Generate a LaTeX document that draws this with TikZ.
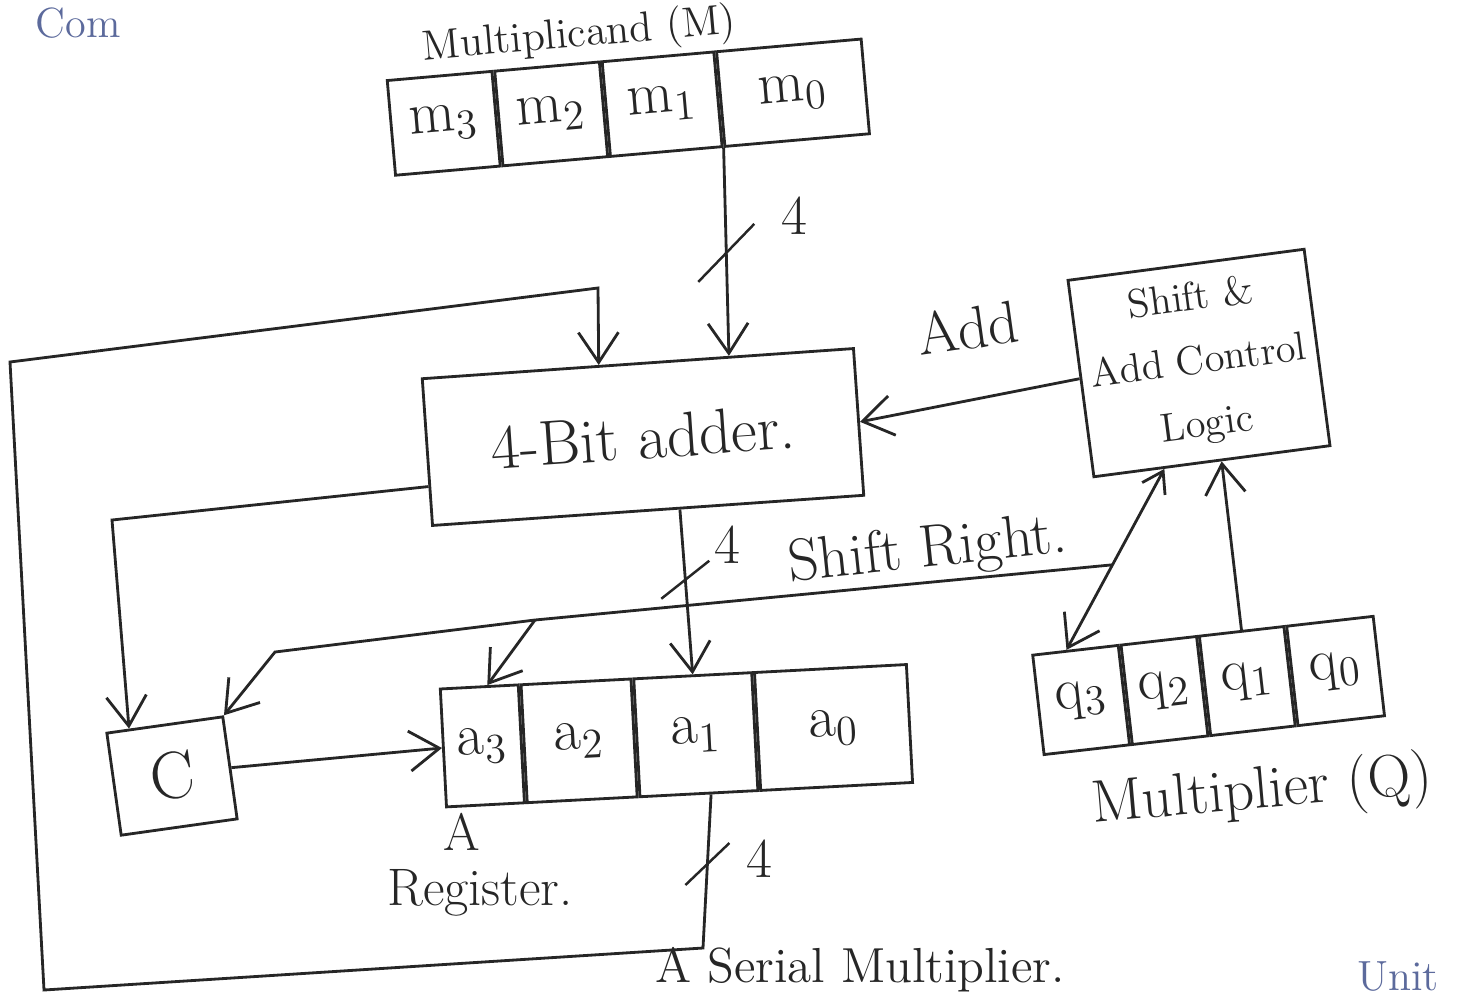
\documentclass[tikz,border=0pt]{standalone}
\usetikzlibrary{arrows.meta,calc}
\definecolor{ink}{HTML}{262626}
\definecolor{pale}{HTML}{5C6A9C}
\begin{document}
\begin{tikzpicture}[x=0.01cm, y=-0.01cm, line width=0.8pt, color=ink,
  every node/.style={font=\fontsize{16}{19}\selectfont},
  cell/.style={draw, inner sep=0pt, anchor=west, transform shape, font=\fontsize{17}{20}\selectfont},
  blk/.style={draw, inner sep=0pt, transform shape},
  tip/.style={-{Straight Barb[length=3mm,width=4mm]}},
  dtip/.style={{Straight Barb[length=2mm,width=2.6mm]}-{Straight Barb[length=3mm,width=4mm]}},
  lbl/.style={inner sep=1pt},
  tick/.style={line width=0.7pt}
]
\useasboundingbox (0,0) rectangle (1470,1000);

% ---------- Multiplicand register ----------
\begin{scope}[shift={(390,128)}, rotate=5]
  \node[cell, minimum width=1.05cm, minimum height=0.95cm] (m3) at (0,0) {m$_3$};
  \node[cell, minimum width=1.05cm, minimum height=0.95cm] (m2) at (m3.east) {m$_2$};
  \node[cell, minimum width=1.12cm, minimum height=0.95cm] (m1) at (m2.east) {m$_1$};
  \node[cell, minimum width=1.45cm, minimum height=0.95cm] (m0) at (m1.east) {m$_0$};
\end{scope}
\node[rotate=5, anchor=south west, inner sep=1pt, font=\fontsize{12}{14}\selectfont] (mlbl) at (420,76) {Multiplicand (M)};

% ---------- A register ----------
\begin{scope}[shift={(442,748)}, rotate=3]
  \node[cell, minimum width=0.78cm, minimum height=1.18cm] (a3) at (0,0) {a$_3$};
  \node[cell, minimum width=1.10cm, minimum height=1.18cm] (a2) at (a3.east) {a$_2$};
  \node[cell, minimum width=1.18cm, minimum height=1.18cm] (a1) at (a2.east) {a$_1$};
  \node[cell, minimum width=1.52cm, minimum height=1.18cm] (a0) at (a1.east) {a$_0$};
\end{scope}
\node[lbl, font=\fontsize{15}{18}\selectfont] (alblA) at (462,832) {A};
\node[lbl, font=\fontsize{15}{18}\selectfont] (alblR) at (480,893) {Register.};

% ---------- Q register ----------
\begin{scope}[shift={(1037,705)}, rotate=6.5]
  \node[cell, minimum width=0.86cm, minimum height=1.0cm] (q3) at (0,0) {q$_3$};
  \node[cell, minimum width=0.76cm, minimum height=1.0cm] (q2) at (q3.east) {q$_2$};
  \node[cell, minimum width=0.85cm, minimum height=1.0cm] (q1) at (q2.east) {q$_1$};
  \node[cell, minimum width=0.87cm, minimum height=1.0cm] (q0) at (q1.east) {q$_0$};
\end{scope}
\node[rotate=5, lbl, font=\fontsize{17}{20}\selectfont] (qlbl) at (1262,793) {Multiplier (Q)};

% ---------- Blocks ----------
\node[blk, rotate=4, minimum width=4.32cm, minimum height=1.47cm, font=\fontsize{18}{21}\selectfont] (adder) at (643,437) {4-Bit adder.};
\node[blk, rotate=7.5, minimum width=2.38cm, minimum height=1.98cm, align=center, font=\fontsize{11.5}{18}\selectfont] (ctrl) at (1199,363) {Shift \&\\Add Control\\Logic};
\node[blk, rotate=8, minimum width=1.17cm, minimum height=1.03cm, font=\fontsize{19}{22}\selectfont] (C) at (172,776) {C};

% ---------- Multiplicand -> adder ----------
\coordinate (mOut) at (m1.south east);
\coordinate (addIn) at ($(adder.north west)!0.71!(adder.north east)$);
\draw[tip] (mOut) -- (addIn);
\coordinate (t1) at ($(mOut)!0.5!(addIn)$);
\draw[tick] ([shift={(-28,30)}]t1) -- ([shift={(28,-28)}]t1);
\node[lbl] (n4a) at ([shift={(68,-36)}]t1) {4};

% ---------- feedback loop A -> adder ----------
\coordinate (aOut) at ($(a1.south west)!0.6!(a1.south east)$);
\coordinate (lp1) at (703,948);
\coordinate (lp2) at (44,990);
\coordinate (lp3) at (10,362);
\coordinate (lp4) at (598,288);
\coordinate (addIn2) at ($(adder.north west)!0.41!(adder.north east)$);
\draw[tip] (aOut) -- (lp1) -- (lp2) -- (lp3) -- (lp4) -- (addIn2);
\coordinate (t3) at ($(aOut)!0.46!(lp1)$);
\draw[tick] ([shift={(-22,20)}]t3) -- ([shift={(22,-22)}]t3);
\node[lbl] (n4c) at ([shift={(52,-6)}]t3) {4};

% ---------- adder -> C ----------
\coordinate (addOutL) at ($(adder.south west)!0.27!(adder.north west)$);
\coordinate (cl1) at (112,520);
\coordinate (cIn) at ($(C.north west)!0.2!(C.north east)$);
\draw[tip] (addOutL) -- (cl1) -- (cIn);

% ---------- adder -> A ----------
\coordinate (addOutB) at ($(adder.south west)!0.573!(adder.south east)$);
\draw[tip] (addOutB) -- (a1.north);
\coordinate (t2) at ($(addOutB)!0.42!(a1.north)$);
\draw[tick] ([shift={(-24,20)}]t2) -- ([shift={(24,-18)}]t2);
\node[lbl] (n4b) at ([shift={(42,-34)}]t2) {4};

% ---------- control -> adder ----------
\draw[tip] (ctrl.west) -- (adder.east);
\node[rotate=8, lbl, font=\fontsize{17}{20}\selectfont] (addlbl) at (968,328) {Add};

% ---------- shift right ----------
\coordinate (dTop) at ($(ctrl.south west)!0.30!(ctrl.south east)$);
\coordinate (dBot) at ($(q3.north west)!0.4!(q3.north east)$);
\draw[dtip] (dTop) -- (dBot);
\coordinate (sr) at ($(dTop)!0.53!(dBot)$);
\coordinate (sr1) at (535,620);
\coordinate (sr2) at (275,652);
\draw[tip] (sr) -- (sr1) -- (sr2) -- (C.north east);
\draw[tip] (sr1) -- ($(a3.north west)!0.6!(a3.north east)$);
\node[rotate=6, lbl, font=\fontsize{17}{20}\selectfont] (srlbl) at (928,552) {Shift Right.};

% ---------- Q -> control ----------
\draw[tip] (q1.north) -- ($(ctrl.south west)!0.54!(ctrl.south east)$);

% ---------- C -> A ----------
\draw[tip] (C.east) -- (a3.west);

% ---------- fragments of surrounding text ----------
\node[lbl, text=pale, font=\fontsize{12}{14}\selectfont, anchor=north] (com) at (78,3) {Com};
\node[lbl, font=\fontsize{14}{16}\selectfont, anchor=south] (title) at (860,997) {A Serial Multiplier.};
\node[lbl, text=pale, font=\fontsize{12}{14}\selectfont, anchor=south] (unit) at (1398,996) {Unit};
\end{tikzpicture}
\end{document}
